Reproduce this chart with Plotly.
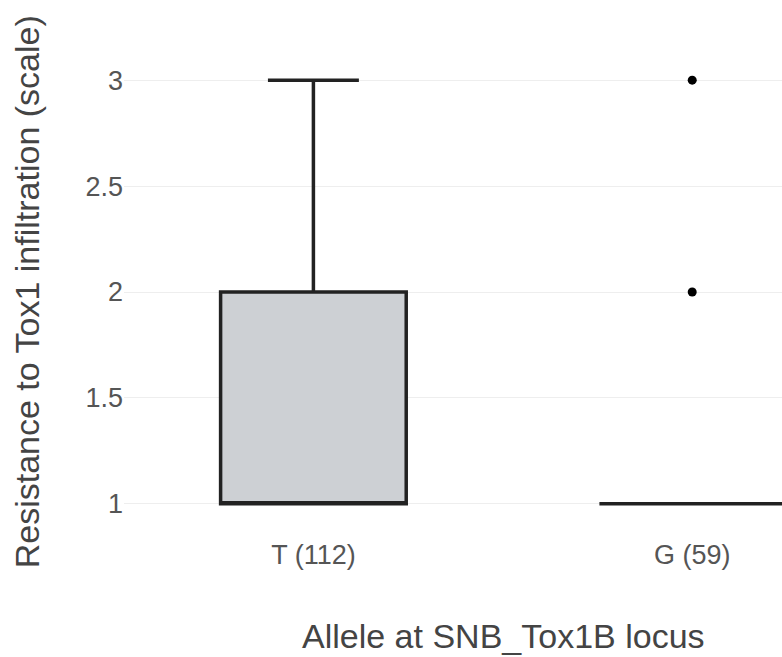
import plotly.graph_objects as go

# Data
categories = ["T (112)", "G (59)"]
q1 = [1, 1]
median = [1, 1]
q3 = [2, 1]
lowerfence = [1, 1]
upperfence = [3, 1]
outlier_x = ["G (59)", "G (59)"]
outlier_y = [3, 2]
y_ticks = [1, 1.5, 2, 2.5, 3]
y_tick_labels = ["1", "1.5", "2", "2.5", "3"]

FONT = "Liberation Sans, Arial, sans-serif"

fig = go.Figure()
fig.add_trace(go.Box(
    x=categories, q1=q1, median=median, q3=q3,
    lowerfence=lowerfence, upperfence=upperfence,
    width=0.49, whiskerwidth=0.49,
    fillcolor="rgb(205,208,212)",
    line=dict(color="#222222", width=3.5),
    boxpoints=False, showlegend=False, hoverinfo="skip",
))
fig.add_trace(go.Scatter(
    x=outlier_x, y=outlier_y, mode="markers",
    marker=dict(color="black", size=9, symbol="circle"),
    showlegend=False, hoverinfo="skip",
))

fig.update_layout(
    width=782, height=657,
    margin=dict(l=124, r=0, t=59, b=132),
    paper_bgcolor="white", plot_bgcolor="white",
    font=dict(family=FONT, color="#555555"),
    xaxis=dict(
        type="category", categoryorder="array", categoryarray=categories,
        range=[-0.5, 1.237], showgrid=False, zeroline=False, showline=False,
        ticks="outside", ticklen=6, tickcolor="rgba(0,0,0,0)",
        tickfont=dict(size=27, color="#555555"),
    ),
    yaxis=dict(
        range=[0.9, 3.1], tickvals=y_ticks, ticktext=y_tick_labels,
        showgrid=True, gridcolor="#eeeeee", gridwidth=1,
        zeroline=False, showline=False,
        ticks="",
        tickfont=dict(size=27, color="#555555"),
    ),
    annotations=[
        dict(text="Allele at SNB_Tox1B locus", xref="paper", yref="paper",
             x=0.577, y=-0.238, xanchor="center", yanchor="middle",
             showarrow=False, font=dict(size=34, color="#444444", family=FONT)),
        dict(text="Resistance to Tox1 infiltration (scale)", xref="paper", yref="paper",
             x=-0.147, y=0.5, xanchor="center", yanchor="middle", textangle=-90,
             showarrow=False, font=dict(size=34, color="#444444", family=FONT)),
    ],
)

fig.write_html("out.html")
